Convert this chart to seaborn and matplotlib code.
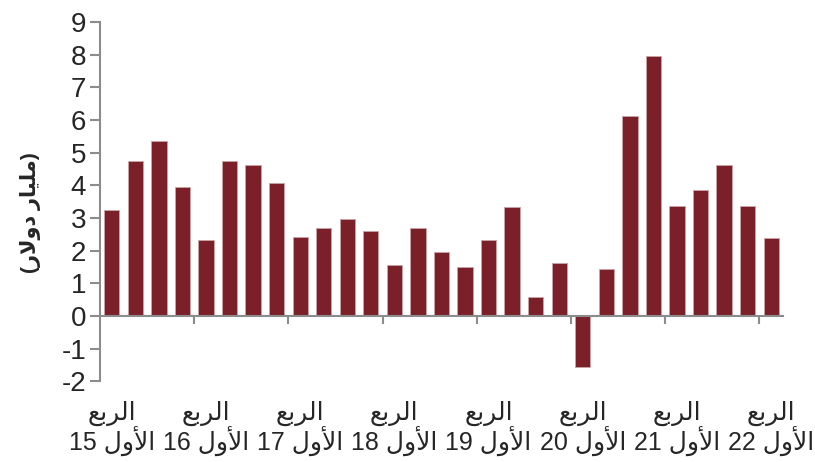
import matplotlib
matplotlib.use("Agg")
import matplotlib.pyplot as plt
import numpy as np
import pandas as pd
import seaborn as sns

# quarterly values, 2015 Q1 .. 2022 Q1 (billion dollars)
quarters = [f"{y}Q{q}" for y in range(15, 23) for q in range(1, 5)][:29]
values = [3.23, 4.75, 5.37, 3.94, 2.31, 4.76, 4.63, 4.07,
          2.42, 2.70, 2.97, 2.60, 1.56, 2.70, 1.96, 1.50,
          2.33, 3.35, 0.58, 1.63, -1.56, 1.44, 6.11, 7.97,
          3.38, 3.85, 4.63, 3.38, 2.39]
years = ["15", "16", "17", "18", "19", "20", "21", "22"]

# Arabic words pre-shaped (presentation forms, visual order)
rub = "\uFECA\uFE91\uFEAE\uFEDF\uFE8D"        # الربع
awwal = "\uFEDD\uFEED\uFEF7\uFE8D"            # الأول
ylab = "(" + "\uFEAD\uFEFB\uFEED\uFEA9" + " " + "\uFEAD\uFE8E\uFEF4\uFEE0\uFEE3" + ")"  # (مليار دولار)

sns.set_style("white")
plt.rcParams["font.family"] = ["Liberation Sans", "DejaVu Sans"]
plt.rcParams["axes.unicode_minus"] = False

df = pd.DataFrame({"quarter": quarters, "value": values})

fig = plt.figure(figsize=(8.15, 4.62), dpi=100)
ax = fig.add_axes([0.1227, 0.175, 0.838, 0.777])
sns.barplot(data=df, x="quarter", y="value", color="#7B2029", saturation=1,
            width=0.65, edgecolor="#c8a4a7", linewidth=0.6, ax=ax)

ax.set_ylim(-2, 9)
ax.set_xlim(-0.5, len(values) - 0.5)
ax.set_yticks(range(-2, 10))
ax.set_xlabel("")
ax.set_ylabel("")

grey = "#8c8c8c"
for s in ["top", "right"]:
    ax.spines[s].set_visible(False)
ax.spines["left"].set_color(grey)
ax.spines["bottom"].set_color(grey)
ax.spines["left"].set_linewidth(1.5)
ax.spines["bottom"].set_linewidth(1.5)
ax.spines["bottom"].set_position(("data", 0))

ax.set_xticks(np.arange(3.5, len(values) - 0.5, 4))
ax.set_xticklabels([])
ax.tick_params(axis="x", direction="out", length=6, width=1.5, color=grey, bottom=True)
ax.tick_params(axis="y", direction="out", length=7, width=1.5, color=grey, left=True,
               labelsize=20, pad=3)

# category labels under the plot, one per first quarter
for i, yr in enumerate(years):
    ax.text(i * 4, -0.055, rub + "\n" + yr + " " + awwal, transform=ax.get_xaxis_transform(),
            ha="center", va="top", fontsize=18, linespacing=1.0)

ax.text(-0.102, 0.47, ylab, transform=ax.transAxes, rotation=90, ha="center", va="center",
        fontsize=15, fontweight="bold")

fig.savefig("out.png", dpi=100)
